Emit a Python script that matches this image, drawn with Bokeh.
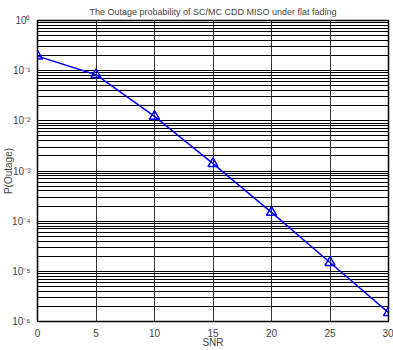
from bokeh.plotting import figure
from bokeh.models import FixedTicker, Range1d, LogTicker
from bokeh.embed import file_html
from bokeh.resources import INLINE

snr = [0, 5, 10, 15, 20, 25, 30]
p_out = [0.195, 0.083, 0.0123, 0.0014, 1.5e-4, 1.5e-5, 1.5e-6]
x_ticks = [0, 5, 10, 15, 20, 25, 30]
y_ticks = [1e-6, 1e-5, 1e-4, 1e-3, 1e-2, 1e-1, 1]
y_labels = ["10⁻⁶", "10⁻⁵", "10⁻⁴", "10⁻³", "10⁻²", "10⁻¹", "10⁰"]

FONT = "Liberation Sans"

p = figure(width=393, height=350, y_axis_type="log", output_backend="svg",
           toolbar_location=None, x_range=Range1d(0, 30), y_range=Range1d(1e-6, 1),
           title="The Outage probability of SC/MC CDD MISO under flat fading",
           min_border_left=0, min_border_right=5, min_border_top=0, min_border_bottom=0)

p.title.text_font = FONT
p.title.text_font_size = "9px"
p.title.text_font_style = "normal"
p.title.align = "center"
p.title.offset = 20
p.title.standoff = 8

p.xaxis.ticker = FixedTicker(ticks=x_ticks)
p.yaxis.ticker = LogTicker(num_minor_ticks=10)
p.yaxis.major_label_overrides = {v: l for v, l in zip(y_ticks, y_labels)}
p.xaxis.axis_label = "SNR"
p.yaxis.axis_label = "P(Outage)"
for ax in (p.xaxis, p.yaxis):
    ax.axis_label_text_font = FONT
    ax.axis_label_text_font_style = "normal"
    ax.axis_label_text_font_size = "10px"
    ax.major_label_text_font = FONT
    ax.major_label_text_font_size = "10px"
    ax.axis_line_color = None
    ax.major_tick_line_color = None
    ax.minor_tick_line_color = None
p.yaxis.major_label_standoff = 1
p.yaxis.axis_label_standoff = -5
p.xaxis.major_label_standoff = 1
p.xaxis.axis_label_standoff = -3

p.xgrid.grid_line_color = "#333333"
p.xgrid.grid_line_alpha = 1
p.ygrid.grid_line_color = "black"
p.ygrid.grid_line_alpha = 1
p.ygrid.minor_grid_line_color = "black"
p.ygrid.minor_grid_line_alpha = 1
p.outline_line_color = "black"
p.outline_line_width = 1.5
p.background_fill_color = "white"

p.line(snr, p_out, line_color="#0000ff", line_width=1.5)
p.scatter(snr, p_out, marker="triangle", size=10, line_color="#0000ff",
          fill_color=None, line_width=1.5)

open("out.html", "w").write(file_html(p, INLINE))
